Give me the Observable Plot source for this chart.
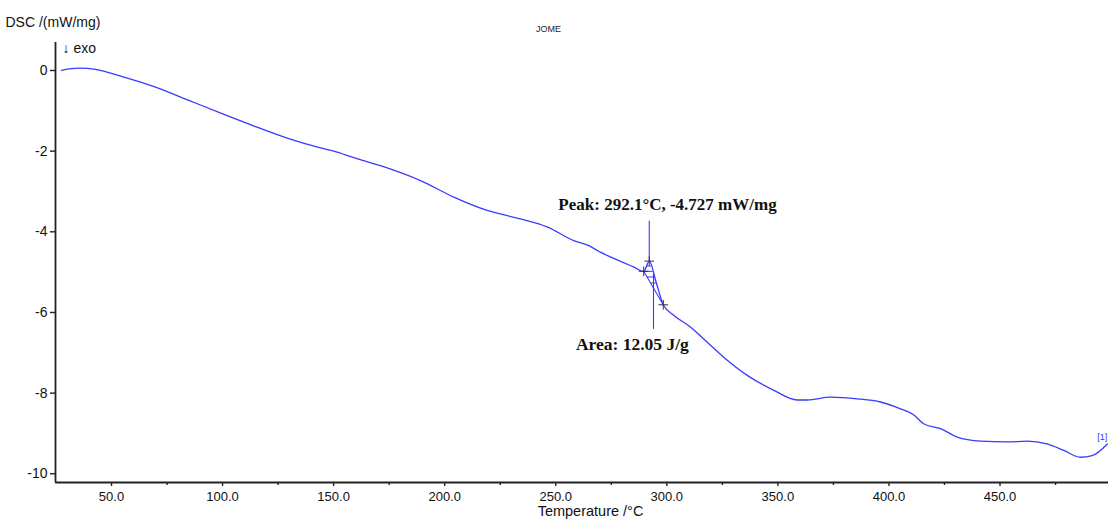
<!DOCTYPE html>
<html><head><meta charset="utf-8">
<script src="https://cdn.jsdelivr.net/npm/d3@7"></script>
<script src="https://cdn.jsdelivr.net/npm/@observablehq/plot@0.6"></script>
<style>html,body{margin:0;padding:0;background:#fff}svg{display:block}</style>
</head><body><div id="chart"></div>
<script>
// ---- data ----
const temperature = [27.5, 31, 36, 42.8, 54.8, 69.8, 84.8, 99.8, 114.8, 129.8, 144.1, 150.1, 159.1, 171.1, 189.1, 204.1, 219.1, 234.1, 246.1, 258.1, 265.6, 268.6, 280, 285, 289.6, 292.1, 295.2, 298.4, 303.1, 310.6, 318.2, 325.6, 336.2, 348.2, 358.7, 363.2, 373.7, 385.7, 396.2, 405.2, 411.2, 415.6, 423.2, 430.7, 441.2, 453.2, 462.2, 471.2, 478.7, 486.2, 491.5, 498.3];
const dsc = [0.00, 0.04, 0.06, 0.03, -0.15, -0.41, -0.74, -1.07, -1.39, -1.69, -1.92, -2.00, -2.16, -2.36, -2.73, -3.14, -3.47, -3.68, -3.88, -4.22, -4.36, -4.46, -4.75, -4.87, -4.98, -4.727, -5.25, -5.81, -6.07, -6.36, -6.74, -7.11, -7.56, -7.93, -8.17, -8.17, -8.10, -8.14, -8.22, -8.39, -8.54, -8.76, -8.88, -9.09, -9.19, -9.21, -9.19, -9.26, -9.42, -9.59, -9.55, -9.26];

const xTicks = [50, 100, 150, 200, 250, 300, 350, 400, 450];
const xMinorTicks = [75, 125, 175, 225, 275, 325, 375, 425, 475];
const yTicks = [0, -2, -4, -6, -8, -10];
const xDomain = [24.79, 498.84];
const yDomain = [-10.216, 0.694];

const peakT = [292.1];
const peakV = [-4.727];
const onsetT = [289.6];
const onsetV = [-4.98];
const endT = [298.4];
const endV = [-5.81];
const peakLineTop = [-3.74];
const areaLineT = [294.0];
const areaLineV = [-5.06, -6.42];
const hatchLevels = [-4.85, -4.98, -5.12, -5.27];

const peakLabel = ["Peak: 292.1°C, -4.727 mW/mg"];
const peakLabelT = [300.3], peakLabelV = [-3.335];
const areaLabel = ["Area: 12.05 J/g"];
const areaLabelT = [284.5], areaLabelV = [-6.78];
const curveTag = ["[1]"];
const curveTagT = [496.0], curveTagV = [-9.10];

const yTitle = "DSC /(mW/mg)";
const exoNote = "↓ exo";
const chartTitle = "JOME";
const xTitle = "Temperature /°C";

// ---- build tables ----
const curve = temperature.map((t, i) => ({t, v: dsc[i]}));
const pk = {t: peakT[0], v: peakV[0]}, on = {t: onsetT[0], v: onsetV[0]}, en = {t: endT[0], v: endV[0]};
const crosses = [on, pk, en];
const tri = [[on, pk], [pk, en], [en, on]];
const hatches = hatchLevels.map(v => {
  const xs = [];
  for (const [a, b] of tri) {
    if ((v - a.v) * (v - b.v) <= 0 && a.v !== b.v) xs.push(a.t + (v - a.v) / (b.v - a.v) * (b.t - a.t));
  }
  return {x1: d3.min(xs), x2: d3.max(xs), y: v};
}).filter(d => d.x1 !== undefined && d.x2 - d.x1 > 0.05);

const blue = "#3a3aff";
const axisColor = "#222";
const serif = "'Liberation Serif','Times New Roman',serif";

const chart = Plot.plot({
  width: 1108, height: 522,
  marginLeft: 55, marginRight: 0, marginTop: 42, marginBottom: 40,
  style: {fontFamily: "'Liberation Sans', Arial, sans-serif", fontSize: "13px", color: "#111", background: "#fff", overflow: "visible"},
  x: {domain: xDomain},
  y: {domain: yDomain},
  marks: [
    Plot.axisX({ticks: xMinorTicks, tickFormat: () => "", tickSize: 3, stroke: axisColor, strokeWidth: 1.4, label: null}),
    Plot.axisX({ticks: xTicks, tickFormat: d => d.toFixed(1), tickSize: 4, tickPadding: 5, stroke: axisColor, strokeWidth: 1.4, fill: "#111", fontSize: 13, label: null}),
    Plot.axisY({ticks: yTicks, tickFormat: d => String(d), tickSize: 5, tickPadding: 3, stroke: axisColor, strokeWidth: 1.4, fill: "#111", fontSize: 14, label: null}),
    Plot.ruleX([xDomain[0]], {stroke: axisColor, strokeWidth: 1.8}),
    Plot.ruleY([yDomain[0]], {stroke: axisColor, strokeWidth: 1.8}),
    // curve
    Plot.line(curve, {x: "t", y: "v", stroke: blue, strokeWidth: 1.3, curve: "monotone-x"}),
    // baseline and hatching of the peak area
    Plot.link([{x1: on.t, y1: on.v, x2: en.t, y2: en.v}], {x1: "x1", y1: "y1", x2: "x2", y2: "y2", stroke: blue, strokeWidth: 1.1}),
    Plot.link(hatches, {x1: "x1", x2: "x2", y1: "y", y2: "y", stroke: blue, strokeWidth: 1}),
    Plot.ruleX(peakT, {y1: peakV[0], y2: peakLineTop[0], stroke: blue, strokeWidth: 1.1}),
    Plot.ruleX(areaLineT, {y1: areaLineV[0], y2: areaLineV[1], stroke: blue, strokeWidth: 1.1}),
    Plot.dot(crosses, {x: "t", y: "v", symbol: "plus", r: 3.2, stroke: "#333", strokeWidth: 1}),
    // annotations
    Plot.text(peakLabel, {x: peakLabelT, y: peakLabelV, text: d => d, fontFamily: serif, fontWeight: "bold", fontSize: 17, fill: "#111"}),
    Plot.text(areaLabel, {x: areaLabelT, y: areaLabelV, text: d => d, fontFamily: serif, fontWeight: "bold", fontSize: 17.5, fill: "#111"}),
    Plot.text(curveTag, {x: curveTagT, y: curveTagV, text: d => d, fontSize: 9, fill: blue}),
    // titles
    Plot.text([yTitle], {frameAnchor: "top-left", dx: -50, dy: -25, textAnchor: "start", fontSize: 14, fill: "#111"}),
    Plot.text([exoNote], {frameAnchor: "top-left", dx: 7, dy: 1, textAnchor: "start", fontSize: 14, fill: "#111"}),
    Plot.text([chartTitle], {frameAnchor: "top", dx: -33.5, dy: -17, fontSize: 9, fill: "#222"}),
    Plot.text([xTitle], {frameAnchor: "bottom", dx: 8.5, dy: 33.5, fontSize: 14.5, fill: "#111"})
  ]
});
document.getElementById("chart").appendChild(chart);
</script>
</body></html>
